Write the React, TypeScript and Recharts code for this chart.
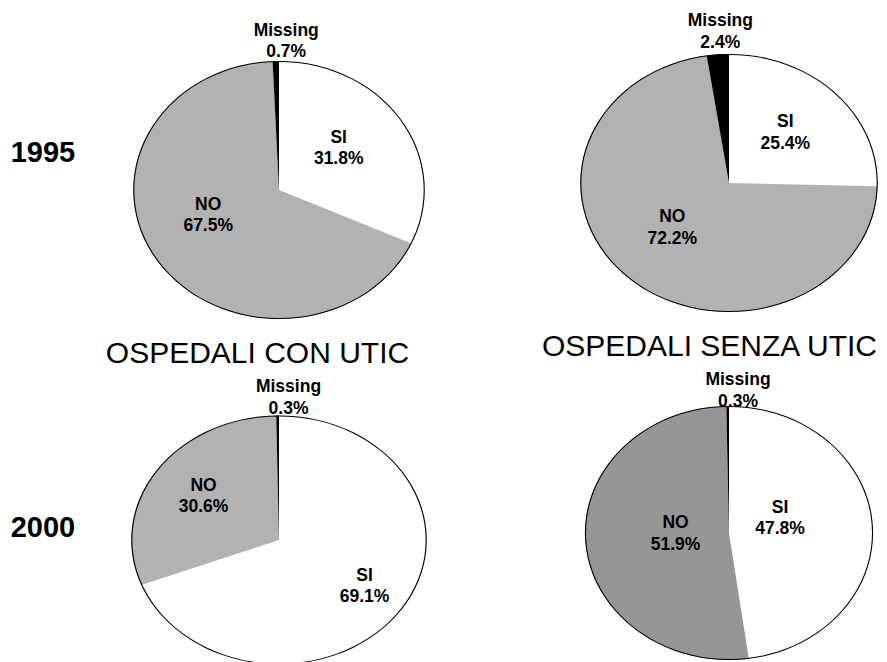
import React from 'react';
import { PieChart, Pie, Cell } from 'recharts';

// ---- data ----
const categories = ['SI', 'NO', 'Missing'];
const con1995 = [31.8, 67.5, 0.7];
const senza1995 = [25.4, 72.2, 2.4];
const con2000 = [69.1, 30.6, 0.3];
const senza2000 = [47.8, 51.9, 0.3];
const years = ['1995', '2000'];
const groupTitles = ['OSPEDALI CON UTIC', 'OSPEDALI SENZA UTIC'];

// ---- layout / styles ----
const FONT = '"Liberation Sans", Arial, Helvetica, sans-serif';
const CH = 420; // square chart size before horizontal stretch
const C0 = CH / 2;

type PieLayout = {
  values: number[];
  colors: string[];
  cx: number; // screen centre
  cy: number;
  rx: number;
  ry: number;
  labels: [number, number][]; // screen offsets of the first label line from centre
};

const LIGHT = '#B2B2B2';
const DARK = '#969696';

const pies: PieLayout[] = [
  { values: con1995, colors: ['#FFFFFF', LIGHT, '#000000'], cx: 279.3, cy: 189.5, rx: 145.7, ry: 129,
    labels: [[59.7, -47.5], [-70.8, 19.5], [7.2, -154.5]] },
  { values: senza1995, colors: ['#FFFFFF', LIGHT, '#000000'], cx: 728.7, cy: 182.8, rx: 148.7, ry: 129,
    labels: [[56.3, -55.8], [-56.7, 39.2], [-8.7, -156.8]] },
  { values: con2000, colors: ['#FFFFFF', LIGHT, '#000000'], cx: 279, cy: 539.5, rx: 147.7, ry: 124.5,
    labels: [[85.5, 40.5], [-75.5, -49.5], [9.5, -147.8]] },
  { values: senza2000, colors: ['#FFFFFF', DARK, '#000000'], cx: 729, cy: 533, rx: 144, ry: 127,
    labels: [[51, -20.3], [-53.5, -5], [9, -148]] },
];

const makeLabel = (p: PieLayout) => (props: any) => {
  const k = p.rx / p.ry;
  const i = props.index as number;
  const off = p.labels[i];
  const x = C0 + off[0] / k;
  const y = C0 + off[1];
  const v = p.values[i];
  return (
    <g key={`lbl-${i}`} transform={`translate(${x},${y}) scale(${1 / k},1)`}>
      <text textAnchor="middle" fontFamily={FONT} fontWeight="bold" fontSize={17.5} fill="#000">
        <tspan x={0} y={0}>{categories[i]}</tspan>
        <tspan x={0} y={21.5}>{`${v.toFixed(1)}%`}</tspan>
      </text>
    </g>
  );
};

function OnePie({ p }: { p: PieLayout }) {
  const k = p.rx / p.ry;
  const data = categories.map((name, i) => ({ name, value: p.values[i] }));
  return (
    <div
      style={{
        position: 'absolute',
        left: p.cx - C0,
        top: p.cy - C0,
        width: CH,
        height: CH,
        transform: `scaleX(${k})`,
        transformOrigin: `${C0}px ${C0}px`,
      }}
    >
      <PieChart width={CH} height={CH} margin={{ top: 0, right: 0, bottom: 0, left: 0 }}>
        <Pie
          data={data}
          dataKey="value"
          nameKey="name"
          cx={C0}
          cy={C0}
          outerRadius={p.ry}
          startAngle={90}
          endAngle={-270}
          stroke="none"
          isAnimationActive={false}
          labelLine={false}
          label={makeLabel(p)}
        >
          {data.map((d, i) => (
            <Cell key={d.name} fill={p.colors[i]} stroke="none" />
          ))}
        </Pie>
        <Pie
          data={[{ name: 'outline', value: 1 }]}
          dataKey="value"
          cx={C0}
          cy={C0}
          innerRadius={p.ry - 0.9}
          outerRadius={p.ry + 0.1}
          startAngle={90}
          endAngle={-270}
          stroke="none"
          fill="#000"
          isAnimationActive={false}
        />
      </PieChart>
    </div>
  );
}

export default function App() {
  return (
    <div
      style={{
        position: 'absolute',
        left: 0,
        top: 0,
        width: 887,
        height: 662,
        overflow: 'hidden',
        background: '#fff',
      }}
    >
      {pies.map((p, i) => (
        <OnePie key={i} p={p} />
      ))}
      <svg width={887} height={662} style={{ position: 'absolute', left: 0, top: 0, pointerEvents: 'none' }}>
        <text x={43} y={162} textAnchor="middle" fontFamily={FONT} fontWeight="bold" fontSize={29} fill="#000">
          {years[0]}
        </text>
        <text x={43} y={537} textAnchor="middle" fontFamily={FONT} fontWeight="bold" fontSize={29} fill="#000">
          {years[1]}
        </text>
        <text x={257.5} y={363} textAnchor="middle" fontFamily={FONT} fontSize={30} fill="#000">
          {groupTitles[0]}
        </text>
        <text x={709.5} y={356} textAnchor="middle" fontFamily={FONT} fontSize={30} fill="#000">
          {groupTitles[1]}
        </text>
      </svg>
    </div>
  );
}
